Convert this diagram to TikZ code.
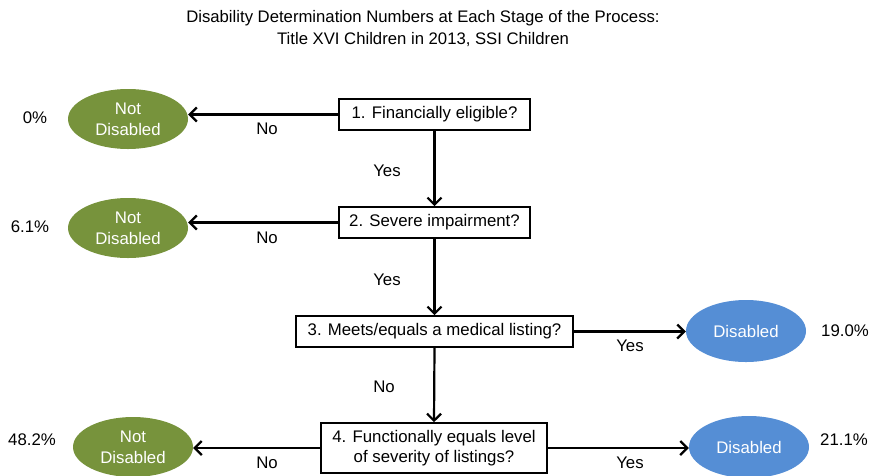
\documentclass[tikz,border=0pt]{standalone}
\usepackage{fontspec}
\setmainfont{Liberation Sans}
\usetikzlibrary{shapes.geometric,arrows.meta}
\definecolor{ndgreen}{HTML}{77933C}
\definecolor{dblue}{HTML}{558ED5}
\begin{document}
\begin{tikzpicture}[x=1pt,y=-1pt,
  qbox/.style={draw=black,line width=1.6pt,fill=white,minimum height=31pt,inner sep=0pt,font=\fontsize{16.8}{20}\selectfont,align=center},
  ndell/.style={ellipse,fill=ndgreen,minimum width=120pt,minimum height=60pt,inner sep=0pt,text=white,font=\fontsize{16.8}{21}\selectfont,align=center},
  dell/.style={ellipse,fill=dblue,minimum width=120pt,minimum height=62pt,inner sep=0pt,text=white,font=\fontsize{16.8}{21}\selectfont,align=center},
  arr/.style={draw=black,line width=2.2pt,-{Straight Barb[length=7pt,width=14pt,line width=2.2pt]}},
  lbl/.style={font=\fontsize{16.8}{20}\selectfont,inner sep=0pt},
  pct/.style={font=\fontsize{16.8}{20}\selectfont,inner sep=0pt}]
\useasboundingbox (0,0) rectangle (872,475);
\node[font=\fontsize{16.7}{22}\selectfont,align=center] (title) at (423,29)
  {Disability Determination Numbers at Each Stage of the Process:\\Title XVI Children in 2013, SSI Children};

\node[qbox,minimum width=191pt] (b1) at (434.5,114.5) {1. Financially eligible?};
\node[qbox,minimum width=191pt] (b2) at (434.5,222.5) {2. Severe impairment?};
\node[qbox,minimum width=277pt] (b3) at (434.5,331.5) {3. Meets/equals a medical listing?};
\node[qbox,minimum width=226pt,minimum height=50pt] (b4) at (434,448) {4. Functionally equals level\\of severity of listings?};

\node[ndell] (e1) at (128,119) {Not\\Disabled};
\node[ndell] (e2) at (128,228) {Not\\Disabled};
\node[ndell] (e3) at (133,447) {Not\\Disabled};
\node[dell] (d1) at (746,331) {Disabled};
\node[dell] (d2) at (749,447) {Disabled};

\draw[arr] (b1.west) -- (b1.west -| e1.east);
\draw[arr] (b2.west) -- (b2.west -| e2.east);
\draw[arr] (b4.west) -- (b4.west -| e3.east);
\draw[arr] (b3.east) -- (b3.east -| d1.west);
\draw[arr] (b4.east) -- (b4.east -| d2.west);
\draw[arr] (b1.south) -- (b2.north);
\draw[arr] (b2.south) -- (b3.north);
\draw[arr] (b3.south) -- (b4.north);

\node[lbl] (n1) at (267,129) {No};
\node[lbl] (n2) at (267,238) {No};
\node[lbl] (n3) at (267,463) {No};
\node[lbl] (y1) at (387,171) {Yes};
\node[lbl] (y2) at (387,280) {Yes};
\node[lbl] (n4) at (384,387) {No};
\node[lbl] (y3) at (630,346) {Yes};
\node[lbl] (y4) at (630,463) {Yes};

\node[pct] (p1) at (35,118) {0\%};
\node[pct] (p2) at (30,227) {6.1\%};
\node[pct] (p3) at (32,440) {48.2\%};
\node[pct] (p4) at (845,331) {19.0\%};
\node[pct] (p5) at (844,440) {21.1\%};
\end{tikzpicture}
\end{document}
